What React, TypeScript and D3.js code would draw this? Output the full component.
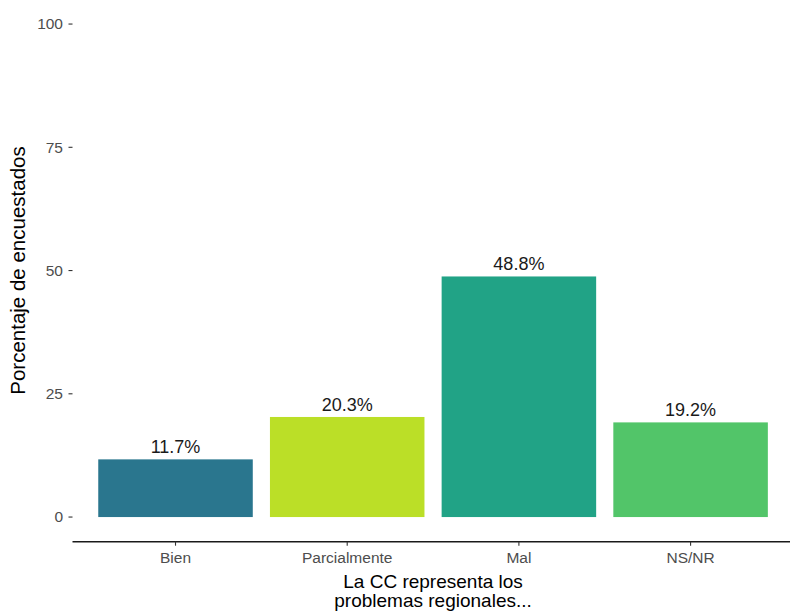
import React from "react";
import * as d3 from "d3";

const categories = ["Bien", "Parcialmente", "Mal", "NS/NR"];
const values = [11.7, 20.3, 48.8, 19.2];
const colors = ["#2A768E", "#BBDF27", "#21A386", "#52C569"];
const yTicks = [0, 25, 50, 75, 100];
const xTitleLines = ["La CC representa los", "problemas regionales..."];

export default function App() {
  const W = 790, H = 611;
  const panelLeft = 72.5, panelRight = 793.6;
  const panelTop = -0.6, panelBottom = 541.7;
  const font = "'Liberation Sans', Arial, sans-serif";

  const y = d3.scaleLinear().domain([-5, 105]).range([panelBottom, panelTop]);
  // ggplot: discrete expansion 0.6 each side with bar width 0.9
  const x = d3.scalePoint<string>().domain(categories).range([panelLeft, panelRight]).padding(0.6);
  const step = x.step();
  const bw = step * 0.9;

  return (
    <svg width={W} height={H} style={{ position: "absolute", left: 0, top: 0, background: "#fff" }} fontFamily={font}>
      {values.map((v, i) => (
        <g key={categories[i]}>
          <rect x={(x(categories[i]) as number) - bw / 2} y={y(v)} width={bw} height={y(0) - y(v)} fill={colors[i]} />
          <text x={x(categories[i])} y={y(v) - 6} textAnchor="middle" fontSize={18} fill="#1a1a1a">
            {v.toFixed(1) + "%"}
          </text>
        </g>
      ))}
      {yTicks.map((t) => (
        <g key={t}>
          <line x1={panelLeft - 4} x2={panelLeft} y1={y(t)} y2={y(t)} stroke="#333" strokeWidth={1.1} />
          <text x={panelLeft - 9.5} y={y(t)} dy="0.35em" textAnchor="end" fontSize={15.5} fill="#4d4d4d">
            {t}
          </text>
        </g>
      ))}
      <line x1={panelLeft} x2={W} y1={panelBottom} y2={panelBottom} stroke="#1a1a1a" strokeWidth={1.4} />
      {categories.map((c) => (
        <g key={c}>
          <line x1={x(c)} x2={x(c)} y1={panelBottom} y2={panelBottom + 4} stroke="#333" strokeWidth={1.1} />
          <text x={x(c)} y={558} dy="0.35em" textAnchor="middle" fontSize={15.5} fill="#4d4d4d">
            {c}
          </text>
        </g>
      ))}
      <text textAnchor="middle" fontSize={19} fill="#000">
        {xTitleLines.map((l, i) => (
          <tspan key={l} x={(panelLeft + panelRight) / 2} y={587.5 + i * 19.5}>{l}</tspan>
        ))}
      </text>
      <text
        transform={`translate(18, ${(panelTop + panelBottom) / 2}) rotate(-90)`}
        textAnchor="middle"
        dy="0.35em"
        fontSize={20.5}
        fill="#000"
      >
        Porcentaje de encuestados
      </text>
    </svg>
  );
}
